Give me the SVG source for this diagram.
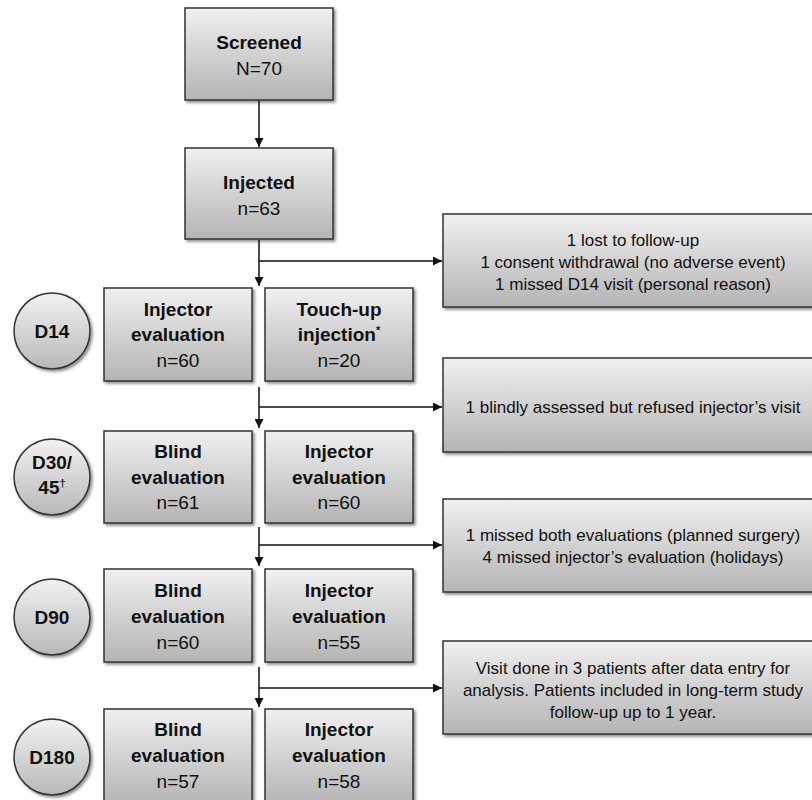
<svg xmlns="http://www.w3.org/2000/svg" width="812" height="800" viewBox="0 0 812 800">
<style>
.box{fill:url(#g);stroke:#333;stroke-width:1.5;filter:url(#sh)}
.circ{fill:url(#gc);stroke:#333;stroke-width:1.5;filter:url(#sh)}
.t{font-family:"Liberation Sans",Arial,sans-serif;font-size:19px;fill:#111;text-anchor:middle}
.b{font-weight:bold}
.s{font-family:"Liberation Sans",Arial,sans-serif;font-size:17px;fill:#111;text-anchor:middle}
.ln{stroke:#111;stroke-width:1.5;fill:none}
.sup{font-size:11px}
</style>
<defs>
<linearGradient id="g" x1="0" y1="0" x2="0" y2="1">
<stop offset="0" stop-color="#f0f0f0"/>
<stop offset="1" stop-color="#b4b4b4"/>
</linearGradient>
<linearGradient id="gc" x1="0" y1="0" x2="0" y2="1">
<stop offset="0" stop-color="#f2f2f2"/>
<stop offset="1" stop-color="#b8b8b8"/>
</linearGradient>
<filter id="sh" x="-10%" y="-10%" width="125%" height="130%">
<feDropShadow dx="2" dy="2" stdDeviation="1.5" flood-color="#000" flood-opacity="0.45"/>
</filter>
<marker id="ah" viewBox="0 0 10 10" refX="10" refY="5" markerWidth="9" markerHeight="9" markerUnits="userSpaceOnUse" orient="auto">
<path d="M0,0 L10,5 L0,10 z" fill="#111"/>
</marker>
</defs>

<g id="connectors">
<line class="ln" x1="259" y1="101" x2="259" y2="147" marker-end="url(#ah)"/>
<line class="ln" x1="259" y1="240" x2="259" y2="286" marker-end="url(#ah)"/>
<line class="ln" x1="259" y1="261" x2="442" y2="261" marker-end="url(#ah)"/>
<line class="ln" x1="259" y1="387" x2="259" y2="428" marker-end="url(#ah)"/>
<line class="ln" x1="259" y1="407" x2="442" y2="407" marker-end="url(#ah)"/>
<line class="ln" x1="259" y1="527" x2="259" y2="566" marker-end="url(#ah)"/>
<line class="ln" x1="259" y1="545" x2="442" y2="545" marker-end="url(#ah)"/>
<line class="ln" x1="259" y1="667" x2="259" y2="707" marker-end="url(#ah)"/>
<line class="ln" x1="259" y1="688" x2="442" y2="688" marker-end="url(#ah)"/>
</g>

<g id="screened">
<rect class="box" x="185" y="8" width="148" height="92"/>
<text class="t b" x="259" y="49">Screened</text>
<text class="t" x="259" y="75">N=70</text>
</g>
<g id="injected">
<rect class="box" x="185" y="148" width="148" height="91"/>
<text class="t b" x="259" y="189">Injected</text>
<text class="t" x="259" y="215">n=63</text>
</g>

<g id="excl1">
<rect class="box" x="443" y="214" width="380" height="93"/>
<text class="s" x="633" y="246">1 lost to follow-up</text>
<text class="s" x="633" y="268">1 consent withdrawal (no adverse event)</text>
<text class="s" x="633" y="290">1 missed D14 visit (personal reason)</text>
</g>

<g id="d14">
<circle class="circ" cx="52" cy="331" r="38"/>
<text class="t b" x="52" y="338">D14</text>
</g>
<g id="d14-injector">
<rect class="box" x="104" y="288" width="148" height="93"/>
<text class="t b" x="178" y="316">Injector</text>
<text class="t b" x="178" y="341">evaluation</text>
<text class="t" x="178" y="367">n=60</text>
</g>
<g id="d14-touchup">
<rect class="box" x="265" y="288" width="148" height="93"/>
<text class="t b" x="339" y="316">Touch-up</text>
<text class="t b" x="339" y="341">injection<tspan class="sup" dy="-7">*</tspan></text>
<text class="t" x="339" y="367">n=20</text>
</g>

<g id="excl2">
<rect class="box" x="443" y="358" width="380" height="94"/>
<text class="s" x="633" y="413">1 blindly assessed but refused injector’s visit</text>
</g>

<g id="d30">
<circle class="circ" cx="52" cy="477" r="38"/>
<text class="t b" x="52" y="469">D30/</text>
<text class="t b" x="52" y="494">45<tspan class="sup" dy="-7">†</tspan></text>
</g>
<g id="d30-blind">
<rect class="box" x="104" y="431" width="148" height="92"/>
<text class="t b" x="178" y="458">Blind</text>
<text class="t b" x="178" y="484">evaluation</text>
<text class="t" x="178" y="509">n=61</text>
</g>
<g id="d30-injector">
<rect class="box" x="265" y="431" width="148" height="92"/>
<text class="t b" x="339" y="458">Injector</text>
<text class="t b" x="339" y="484">evaluation</text>
<text class="t" x="339" y="509">n=60</text>
</g>

<g id="excl3">
<rect class="box" x="443" y="499" width="380" height="93"/>
<text class="s" x="633" y="541">1 missed both evaluations (planned surgery)</text>
<text class="s" x="633" y="563">4 missed injector’s evaluation (holidays)</text>
</g>

<g id="d90">
<circle class="circ" cx="52" cy="617" r="38"/>
<text class="t b" x="52" y="624">D90</text>
</g>
<g id="d90-blind">
<rect class="box" x="104" y="569" width="148" height="93"/>
<text class="t b" x="178" y="597">Blind</text>
<text class="t b" x="178" y="623">evaluation</text>
<text class="t" x="178" y="649">n=60</text>
</g>
<g id="d90-injector">
<rect class="box" x="265" y="569" width="148" height="93"/>
<text class="t b" x="339" y="597">Injector</text>
<text class="t b" x="339" y="623">evaluation</text>
<text class="t" x="339" y="649">n=55</text>
</g>

<g id="excl4">
<rect class="box" x="443" y="641" width="380" height="93"/>
<text class="s" x="633" y="674">Visit done in 3 patients after data entry for</text>
<text class="s" x="633" y="696">analysis. Patients included in long-term study</text>
<text class="s" x="633" y="718">follow-up up to 1 year.</text>
</g>

<g id="d180">
<circle class="circ" cx="52" cy="757" r="38"/>
<text class="t b" x="52" y="764">D180</text>
</g>
<g id="d180-blind">
<rect class="box" x="104" y="709" width="148" height="95"/>
<text class="t b" x="178" y="736">Blind</text>
<text class="t b" x="178" y="762">evaluation</text>
<text class="t" x="178" y="788">n=57</text>
</g>
<g id="d180-injector">
<rect class="box" x="265" y="709" width="148" height="95"/>
<text class="t b" x="339" y="736">Injector</text>
<text class="t b" x="339" y="762">evaluation</text>
<text class="t" x="339" y="788">n=58</text>
</g>
</svg>
